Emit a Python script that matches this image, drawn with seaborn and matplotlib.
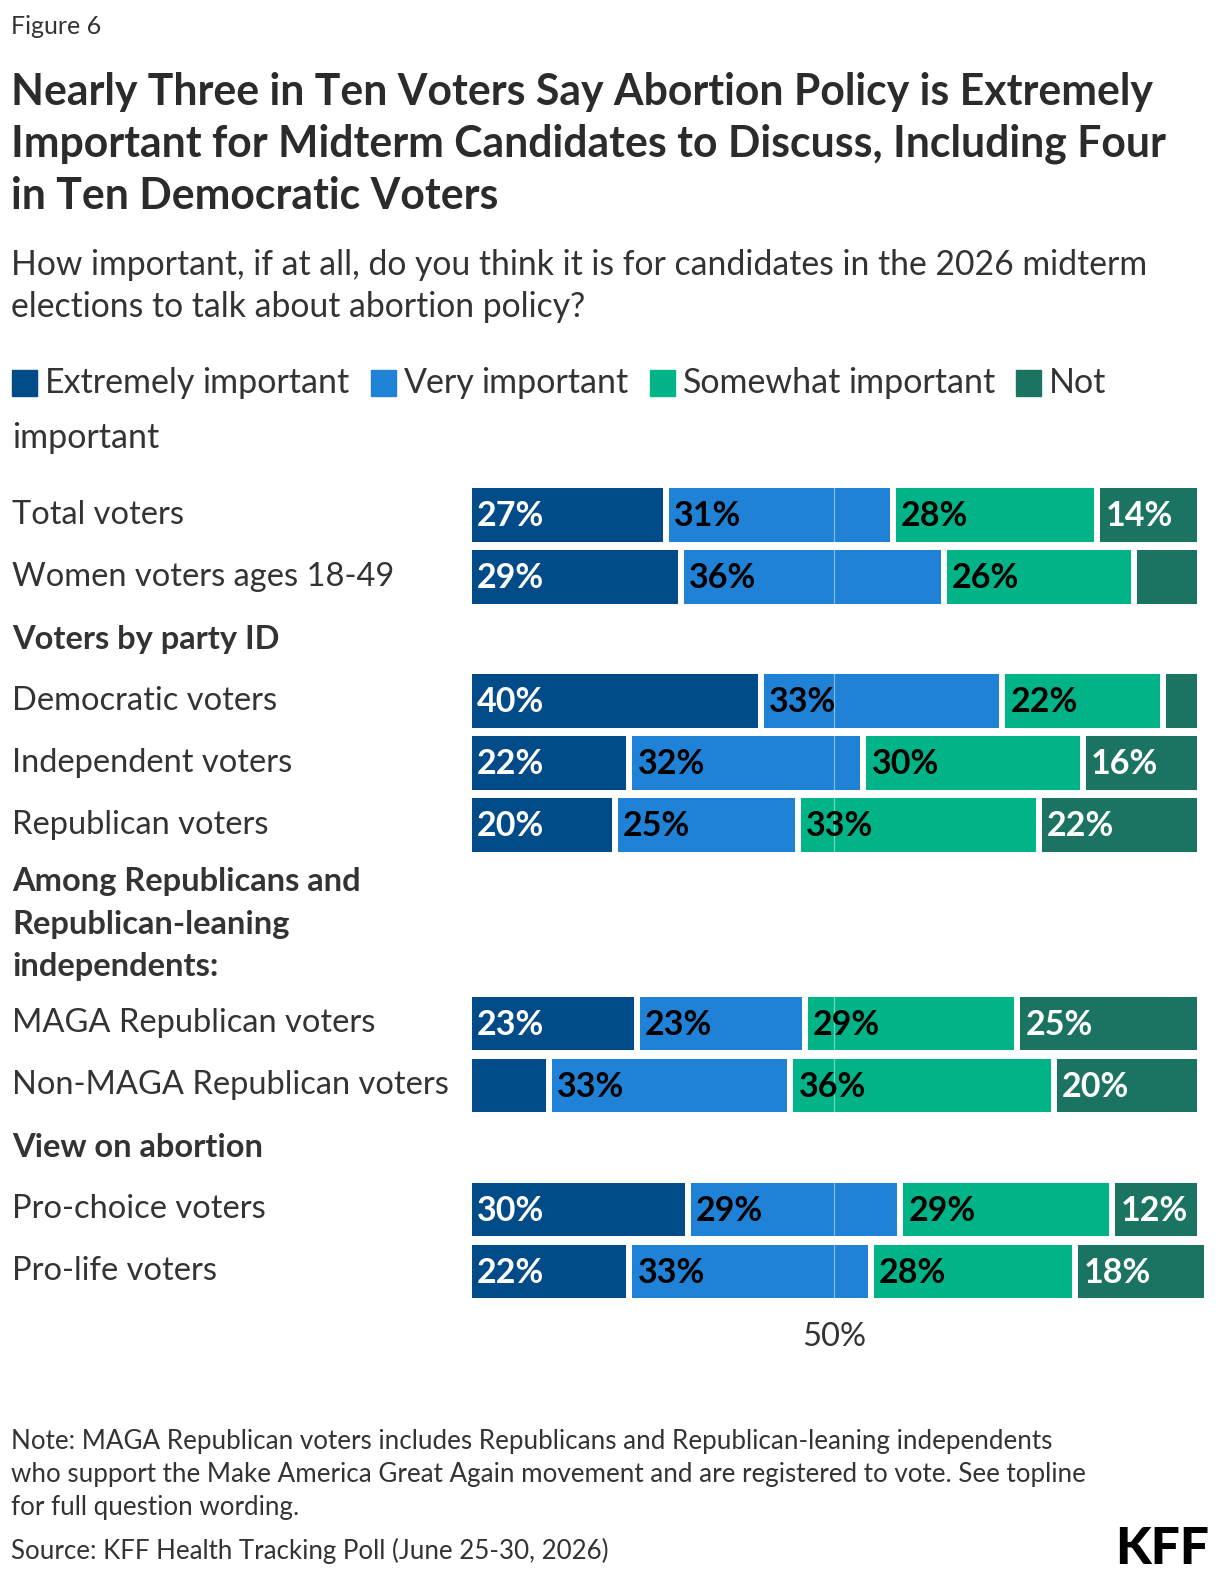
import numpy as np
import pandas as pd
import matplotlib
matplotlib.use("Agg")
import matplotlib.pyplot as plt
import matplotlib.transforms as mtrans
from matplotlib.patches import Rectangle
import seaborn as sns

# values (percent)
groups = ["Total voters", "Women voters ages 18-49", "Democratic voters",
          "Independent voters", "Republican voters", "MAGA Republican voters",
          "Non-MAGA Republican voters", "Pro-choice voters", "Pro-life voters"]
levels = ["Extremely important", "Very important", "Somewhat important", "Not important"]
extremely = [27, 29, 40, 22, 20, 23, 11, 30, 22]
very = [31, 36, 33, 32, 25, 23, 33, 29, 33]
somewhat = [28, 26, 22, 30, 33, 29, 36, 29, 28]
not_important = [14, 9, 5, 16, 22, 25, 20, 12, 18]

# section headers, keyed by the group they sit above
headers = {2: "Voters by party ID",
           5: "Among Republicans and\nRepublican-leaning\nindependents:",
           7: "View on abortion"}

fig_label = "Figure 6"
title_lines = ["Nearly Three in Ten Voters Say Abortion Policy is Extremely",
               "Important for Midterm Candidates to Discuss, Including Four",
               "in Ten Democratic Voters"]
subtitle_lines = ["How important, if at all, do you think it is for candidates in the 2026 midterm",
                  "elections to talk about abortion policy?"]
note_lines = ["Note: MAGA Republican voters includes Republicans and Republican-leaning independents",
              "who support the Make America Great Again movement and are registered to vote. See topline",
              "for full question wording."]
source = "Source: KFF Health Tracking Poll (June 25-30, 2026)"

colors = ["#024b89", "#1f82d7", "#00b487", "#1b7462"]
label_colors = ["white", "black", "black", "white"]
dark = "#333333"
label_min = 12

W, H = 1220, 1580


def fx(px):
    return px / W


def fy(py):
    return 1 - py / H


# row positions: one unit per bar row, headers take extra room per line
ypos = []
header_pos = []
pos = 0.0
for i, g in enumerate(groups):
    if i in headers:
        n = headers[i].count("\n") + 1
        h = 1 + 0.6 * (n - 1)
        header_pos.append((headers[i], pos + (h - 1) / 2))
        pos += h
    ypos.append(round(pos, 3))
    pos += 1

vals = np.array([extremely, very, somewhat, not_important])
cum = vals.cumsum(axis=0)
recs = []
for k, lev in enumerate(levels):
    for j, g in enumerate(groups):
        recs.append({"group": g, "y": ypos[j], "level": lev, "value": vals[k, j],
                     "left": cum[k, j] - vals[k, j], "right": cum[k, j]})
df = pd.DataFrame(recs)

sns.set_theme(style="white")
plt.rcParams["font.family"] = ["Lato", "DejaVu Sans"]

fig = plt.figure(figsize=(W / 100, H / 100), dpi=100)
y_top, y_bot = -0.6, 12.7
unit = 62.0
ax_top_px = 515 + y_top * unit
ax_bot_px = 515 + y_bot * unit
xscale = 7.313
ax = fig.add_axes([fx(468.5), fy(ax_bot_px), fx(102 * xscale), (ax_bot_px - ax_top_px) / H])

# stacked bars: draw cumulative totals back to front
sns.barplot(data=df, x="right", y="y", hue="level", hue_order=levels[::-1],
            palette=dict(zip(levels, colors)), dodge=False, orient="y",
            native_scale=True, width=0.96, saturation=1, edgecolor="white",
            linewidth=4.3, errorbar=None, legend=False, ax=ax)

ax.axvline(50, color="white", lw=0.9, alpha=0.45, zorder=3)

for _, r in df.iterrows():
    if r["value"] >= label_min:
        k = levels.index(r["level"])
        ax.annotate(f"{r['value']}%", (r["left"], r["y"]), xytext=(6, -1),
                    textcoords="offset points", ha="left", va="center",
                    fontsize=24.5, fontweight="bold", color=label_colors[k], zorder=4)

ax.set_xlim(0, 102)
ax.set_ylim(y_bot, y_top)
ax.set_xticks([50])
ax.set_xticklabels(["50%"])
ax.set_yticks([])
ax.tick_params(axis="x", length=0, pad=14, labelsize=23.5, labelcolor=dark)
ax.set_xlabel("")
ax.set_ylabel("")
sns.despine(ax=ax, left=True, bottom=True)

# row labels and section headers at the left edge of the figure
tr = mtrans.blended_transform_factory(fig.transFigure, ax.transData)
for g, y in zip(groups, ypos):
    ax.text(fx(12), y, g, transform=tr, ha="left", va="center", fontsize=23.5,
            color=dark, clip_on=False)
for txt, y in header_pos:
    ax.text(fx(12), y, txt, transform=tr, ha="left", va="center", fontsize=23.5,
            fontweight="bold", color=dark, linespacing=1.55, clip_on=False)

# header texts
fig.text(fx(11), fy(27), fig_label, ha="left", va="center", fontsize=18, color=dark)
for i, line in enumerate(title_lines):
    fig.text(fx(11), fy(92 + 52 * i), line, ha="left", va="center", fontsize=30.8,
             fontweight="bold", color="#2b2b2b")
for i, line in enumerate(subtitle_lines):
    fig.text(fx(11), fy(265 + 42 * i), line, ha="left", va="center", fontsize=24.3,
             color=dark)

# legend, flowed like wrapped text
renderer = fig.canvas.get_renderer()
x, ly = 12, 383
max_x = 1208
for lev, col in zip(levels, colors):
    fig.add_artist(Rectangle((fx(x), fy(ly + 13)), fx(25), 26 / H, color=col,
                             transform=fig.transFigure))
    x += 33
    for w in lev.split():
        t = fig.text(fx(x), fy(ly), w, ha="left", va="center", fontsize=24.5, color=dark)
        wpx = t.get_window_extent(renderer).width
        if x + wpx > max_x:
            x, ly = 12, ly + 55
            t.set_position((fx(x), fy(ly)))
        x += wpx + 7
    x += 14

# footer
for i, line in enumerate(note_lines):
    fig.text(fx(11), fy(1441 + 33.5 * i), line, ha="left", va="center", fontsize=18.7,
             color=dark)
fig.text(fx(11), fy(1551), source, ha="left", va="center", fontsize=18.6, color=dark)
fig.text(fx(1209), fy(1550), "KFF", ha="right", va="center", fontsize=37,
         fontweight="black", color="black")

fig.savefig("out.png", dpi=100)
